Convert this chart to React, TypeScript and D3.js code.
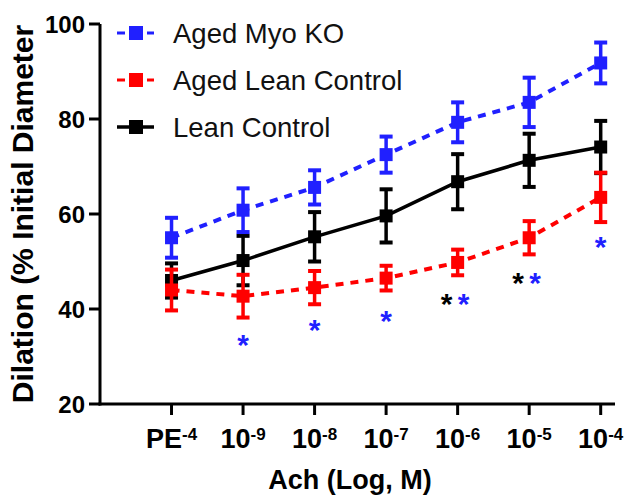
import React from 'react';
import * as d3 from 'd3';

// x categories (base + superscript)
const doseBases = ['PE', '10', '10', '10', '10', '10', '10'];
const doseExps = ['-4', '-9', '-8', '-7', '-6', '-5', '-4'];

// % initial diameter, mean and error
const myoKO = [55, 60.8, 65.6, 72.5, 79.3, 83.5, 91.8];
const myoKOErr = [4.2, 4.6, 3.6, 3.8, 4.2, 5.2, 4.3];
const agedLean = [44, 42.7, 44.5, 46.5, 49.8, 55, 63.5];
const agedLeanErr = [4.3, 4.5, 3.5, 2.6, 2.7, 3.5, 5.2];
const lean = [46, 50.2, 55.2, 59.6, 66.8, 71.3, 74.1];
const leanErr = [3.6, 5.2, 5.2, 5.6, 5.8, 5.6, 5.5];

// significance markers
const starsBlue = [false, true, true, true, true, true, true];
const starsBlack = [false, false, false, false, true, true, false];
const starLevel = [0, 34, 37, 39, 42.5, 47, 54.5];

const yTicks = [20, 40, 60, 80, 100];

const BLUE = '#2020ff';
const RED = '#ff0000';
const BLACK = '#000000';
const FONT = '"Liberation Sans", Arial, Helvetica, sans-serif';

const series = [
  { name: 'Lean Control', values: lean, errs: leanErr, color: BLACK, dash: null },
  { name: 'Aged Lean Control', values: agedLean, errs: agedLeanErr, color: RED, dash: '8,7' },
  { name: 'Aged Myo KO', values: myoKO, errs: myoKOErr, color: BLUE, dash: '8,7' },
];
const legendOrder = [series[2], series[1], series[0]];

export default function App() {
  const width = 627;
  const height = 496;

  const x = d3.scaleLinear().domain([-1, 6.2]).range([100, 615]);
  const y = d3.scaleLinear().domain([20, 100]).range([404, 24]);

  const line = d3
    .line<number>()
    .x((_, i) => x(i))
    .y((d) => y(d));

  const box = 13;

  return (
    <svg
      width={width}
      height={height}
      style={{ position: 'absolute', left: 0, top: 0, background: '#fff' }}
      fontFamily={FONT}
    >
      {/* axes */}
      <line x1={100} x2={100} y1={y(100)} y2={y(20) + 1.5} stroke="#000" strokeWidth={3} />
      <line x1={98.5} x2={615} y1={y(20)} y2={y(20)} stroke="#000" strokeWidth={3} />
      {yTicks.map((t) => (
        <g key={t}>
          <line x1={89} x2={100} y1={y(t)} y2={y(t)} stroke="#000" strokeWidth={3} />
          <text x={85} y={y(t) + 8.5} textAnchor="end" fontSize={24} fontWeight="bold">
            {t}
          </text>
        </g>
      ))}
      {doseBases.map((b, i) => (
        <g key={i}>
          <line x1={x(i)} x2={x(i)} y1={y(20)} y2={415} stroke="#000" strokeWidth={3} />
          <text x={x(i)} y={448} textAnchor="middle" fontSize={27} fontWeight="bold">
            {b}
            <tspan fontSize={17} dy={-8}>
              {doseExps[i]}
            </tspan>
          </text>
        </g>
      ))}
      <text x={350} y={489} textAnchor="middle" fontSize={27} fontWeight="bold">
        Ach (Log, M)
      </text>
      <text
        transform={`translate(33, ${(y(20) + y(100)) / 2}) rotate(-90)`}
        textAnchor="middle"
        fontSize={30}
        fontWeight="bold"
      >
        Dilation (% Initial Diameter
      </text>

      {/* data */}
      {series.map((s) => (
        <g key={s.name}>
          <path
            d={line(s.values) || ''}
            fill="none"
            stroke={s.color}
            strokeWidth={s.dash ? 4 : 3.5}
            strokeDasharray={s.dash || undefined}
          />
          {s.values.map((v, i) => {
            const top = y(v + s.errs[i]);
            const bot = y(v - s.errs[i]);
            return (
              <g key={i}>
                <line x1={x(i)} x2={x(i)} y1={top} y2={bot} stroke={s.color} strokeWidth={3.5} />
                <rect x={x(i) - 6.5} y={top - 2} width={13} height={4} fill={s.color} />
                <rect x={x(i) - 6.5} y={bot - 2} width={13} height={4} fill={s.color} />
                <rect x={x(i) - box / 2} y={y(v) - box / 2} width={box} height={box} fill={s.color} />
              </g>
            );
          })}
        </g>
      ))}

      {/* significance */}
      {starLevel.map((lv, i) => {
        if (!starsBlue[i] && !starsBlack[i]) return null;
        const pair = starsBlue[i] && starsBlack[i];
        const base = y(lv) + 17;
        return (
          <g key={i} fontSize={30} fontWeight="bold" textAnchor="middle">
            {starsBlack[i] && (
              <text x={x(i) - 11} y={base} fill={BLACK}>
                *
              </text>
            )}
            {starsBlue[i] && (
              <text x={x(i) + (pair ? 6 : 0)} y={base} fill={BLUE}>
                *
              </text>
            )}
          </g>
        );
      })}

      {/* legend */}
      {legendOrder.map((s, i) => {
        const cy = 33 + i * 47;
        return (
          <g key={s.name}>
            <line
              x1={117}
              x2={154}
              y1={cy}
              y2={cy}
              stroke={s.color}
              strokeWidth={s.dash ? 3 : 3.5}
              strokeDasharray={s.dash || undefined}
            />
            <rect x={136 - 7} y={cy - 7} width={14} height={14} fill={s.color} />
            <text x={173} y={cy + 10} fontSize={27.5} fill="#111">
              {s.name}
            </text>
          </g>
        );
      })}
    </svg>
  );
}
